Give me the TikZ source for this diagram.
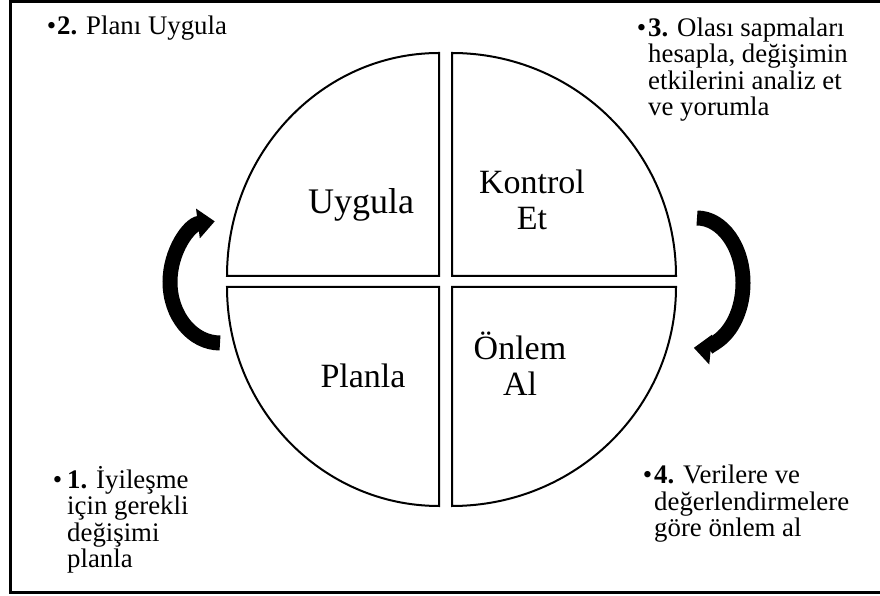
\documentclass[tikz,border=0pt]{standalone}
\usepackage{fontspec}
\setmainfont{Liberation Serif}
\usetikzlibrary{arrows.meta}
\begin{document}
\begin{tikzpicture}[x=1pt,y=1pt,
  quad/.style={draw=black,line width=2pt,line join=miter},
  biglabel/.style={font=\fontsize{34}{36}\selectfont, align=center, inner sep=0pt, anchor=base},
  note/.style={font=\fontsize{26.8}{26.6}\selectfont, align=left, anchor=base west, inner sep=0pt},
  cyclearrow/.style={line width=15pt, -{Triangle[width=29pt,length=17pt]}}]
\useasboundingbox (0,0) rectangle (880,596);
\draw[line width=3pt] (10.5,3.5) rectangle (884,594.5);
% quadrants
\draw[quad] (439,320) -- (227,320) arc[start angle=180,end angle=90,x radius=212,y radius=223] -- cycle;
\draw[quad] (452,320) -- (452,543) arc[start angle=90,end angle=0,x radius=224,y radius=223] -- cycle;
\draw[quad] (439,309) -- (439,90) arc[start angle=270,end angle=180,x radius=212,y radius=219] -- cycle;
\draw[quad] (452,309) -- (676,309) arc[start angle=0,end angle=-90,x radius=224,y radius=219] -- cycle;
% labels
\node[biglabel, font=\fontsize{36}{38}\selectfont] (uy) at (361,382) {Uygula};
\node[biglabel] (ko) at (532,366) {Kontrol\\Et};
\node[biglabel] (pl) at (363,208) {Planla};
\node[biglabel] (on) at (520,200) {Önlem\\Al};
% cycle arrows
\draw[cyclearrow] (220,253) arc[start angle=270,end angle=96,x radius=50,y radius=61];
\draw[cyclearrow] (697,378) arc[start angle=90,end angle=-94,x radius=46,y radius=65];
% notes
\node[note] (n2) at (57,561) {\llap{•\hspace{1pt}}\textbf{2.} Planı Uygula};
\node[note] (n3) at (648,480) {\llap{•\hspace{2pt}}\textbf{3.} Olası sapmaları\\hesapla, değişimin\\etkilerini analiz et\\ve yorumla};
\node[note] (n1) at (67,28) {\llap{•\hspace{5pt}}\textbf{1.} İyileşme\\için gerekli\\değişimi\\planla};
\node[note] (n4) at (654,59) {\llap{•\hspace{2pt}}\textbf{4.} Verilere ve\\değerlendirmelere\\göre önlem al};
\end{tikzpicture}
\end{document}
